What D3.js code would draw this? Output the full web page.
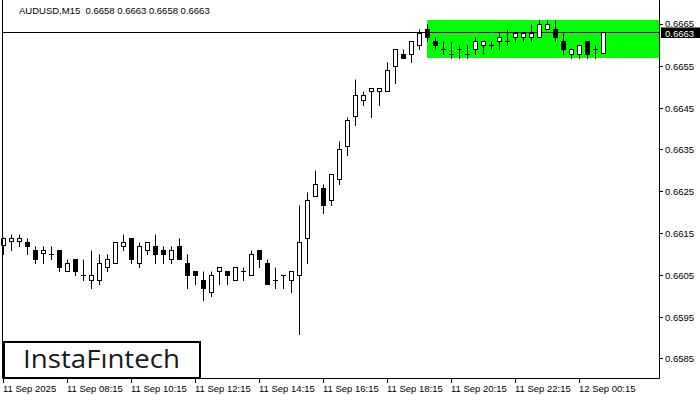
<!DOCTYPE html>
<html><head><meta charset="utf-8">
<script src="https://cdn.jsdelivr.net/npm/d3@7"></script>
<style>body{margin:0;background:#fff} svg{display:block}</style>
</head><body><svg id="c" width="700" height="400"></svg>
<script>
const barOpen  = [0.66120,0.66130,0.66130,0.66129,0.66110,0.66101,0.66100,0.66110,0.66058,0.66088,
                  0.66050,0.66038,0.66038,0.66069,0.66079,0.66119,0.66139,0.66079,0.66110,0.66119,
                  0.66110,0.66088,0.66119,0.66079,0.66058,0.66038,0.66009,0.66058,0.66058,0.66038,
                  0.66058,0.66050,0.66110,0.66079,0.66038,0.66050,0.66038,0.66050,0.66138,0.66239,
                  0.66258,0.66230,0.66278,0.66359,0.66429,0.66469,0.66489,0.66489,0.66489,0.66549,
                  0.66578,0.66578,0.66599,0.66637,0.66609,0.66589,0.66578,0.66589,0.66578,0.66589,
                  0.66599,0.66599,0.66609,0.66609,0.66618,0.66618,0.66618,0.66618,0.66638,0.66638,
                  0.66609,0.66578,0.66578,0.66609,0.66589,0.66580];
const barHigh  = [0.66141,0.66148,0.66148,0.66139,0.66119,0.66119,0.66119,0.66110,0.66088,0.66088,
                  0.66088,0.66110,0.66100,0.66100,0.66129,0.66148,0.66139,0.66129,0.66129,0.66148,
                  0.66119,0.66119,0.66139,0.66100,0.66058,0.66058,0.66058,0.66069,0.66058,0.66069,
                  0.66069,0.66110,0.66110,0.66088,0.66069,0.66050,0.66058,0.66218,0.66249,0.66300,
                  0.66268,0.66290,0.66369,0.66428,0.66518,0.66489,0.66498,0.66498,0.66559,0.66589,
                  0.66589,0.66609,0.66637,0.66649,0.66618,0.66609,0.66609,0.66599,0.66599,0.66618,
                  0.66609,0.66609,0.66628,0.66638,0.66628,0.66628,0.66649,0.66660,0.66660,0.66660,
                  0.66628,0.66589,0.66599,0.66609,0.66599,0.66630];
const barLow   = [0.66100,0.66110,0.66118,0.66100,0.66079,0.66079,0.66088,0.66058,0.66058,0.66050,
                  0.66038,0.66018,0.66028,0.66058,0.66079,0.66110,0.66079,0.66069,0.66100,0.66079,
                  0.66079,0.66079,0.66088,0.66018,0.66028,0.65989,0.65998,0.66028,0.66028,0.66038,
                  0.66038,0.66050,0.66069,0.66028,0.66018,0.66018,0.66009,0.65908,0.66078,0.66239,
                  0.66198,0.66218,0.66268,0.66337,0.66409,0.66457,0.66428,0.66457,0.66489,0.66508,
                  0.66568,0.66559,0.66589,0.66609,0.66589,0.66578,0.66568,0.66568,0.66568,0.66578,
                  0.66578,0.66589,0.66589,0.66599,0.66609,0.66609,0.66609,0.66618,0.66638,0.66609,
                  0.66578,0.66568,0.66568,0.66568,0.66568,0.66580];
const barClose = [0.66139,0.66139,0.66139,0.66119,0.66088,0.66110,0.66100,0.66069,0.66079,0.66058,
                  0.66050,0.66050,0.66079,0.66088,0.66129,0.66129,0.66088,0.66119,0.66129,0.66100,
                  0.66100,0.66110,0.66088,0.66050,0.66050,0.66018,0.66050,0.66069,0.66050,0.66069,
                  0.66058,0.66100,0.66088,0.66028,0.66038,0.66050,0.66058,0.66129,0.66230,0.66268,
                  0.66218,0.66290,0.66350,0.66420,0.66479,0.66479,0.66498,0.66498,0.66540,0.66589,
                  0.66568,0.66609,0.66628,0.66618,0.66599,0.66589,0.66578,0.66589,0.66578,0.66609,
                  0.66609,0.66599,0.66618,0.66609,0.66628,0.66628,0.66628,0.66649,0.66649,0.66618,
                  0.66589,0.66589,0.66599,0.66578,0.66589,0.66630];
const xTickIndex  = [0,8,16,24,32,40,48,56,64,72];
const xTickLabels = ["11 Sep 2025","11 Sep 08:15","11 Sep 10:15","11 Sep 12:15","11 Sep 14:15",
                     "11 Sep 16:15","11 Sep 18:15","11 Sep 20:15","11 Sep 22:15","12 Sep 00:15"];
const yTickValues = [0.6585,0.6595,0.6605,0.6615,0.6625,0.6635,0.6645,0.6655,0.6665];
const titleText = "AUDUSD,M15  0.6658 0.6663 0.6658 0.6663";
const lastPrice = 0.6663;
const zoneTop = 0.66660, zoneBottom = 0.66569, zoneStart = 53;
const logoText = "InstaFıntech";

const svg = d3.select("#c");
const F = "'Liberation Sans', Arial, sans-serif";
const plotRight = 659, plotBottom = 378, plotLeft = 2;
const x = d3.scaleLinear().domain([0, 75]).range([3, 603]);
const y = d3.scaleLinear().domain([0.6585, 0.6665]).range([358.3, 24]);
const py = v => Math.round(y(v)) + 0.5;
const px = i => Math.round(x(i)) + 0.5;

svg.append("rect").attr("width",700).attr("height",400).attr("fill","#fff");

// zone
svg.append("rect")
  .attr("x", Math.round(x(zoneStart))).attr("y", Math.round(y(zoneTop)))
  .attr("width", plotRight - Math.round(x(zoneStart)))
  .attr("height", Math.round(y(zoneBottom)) - Math.round(y(zoneTop)))
  .attr("fill", "#00ff00");

// price line
svg.append("line").attr("x1", plotLeft).attr("x2", plotRight)
  .attr("y1", py(lastPrice)).attr("y2", py(lastPrice))
  .attr("stroke", "#000").attr("stroke-width", 1);

// candles
const idx = d3.range(barOpen.length);
const g = svg.append("g");
g.selectAll("line.w").data(idx).join("line").attr("class","w")
  .attr("x1", px).attr("x2", px)
  .attr("y1", i => py(barHigh[i])).attr("y2", i => py(barLow[i]) + 0.5)
  .attr("stroke", "#000").attr("stroke-width", 1);
g.selectAll("rect.b").data(idx.filter(i => Math.abs(barOpen[i]-barClose[i]) > 1e-6)).join("rect").attr("class","b")
  .attr("x", i => px(i) - 2).attr("width", 4)
  .attr("y", i => py(Math.max(barOpen[i], barClose[i])))
  .attr("height", i => Math.max(1, py(Math.min(barOpen[i], barClose[i])) - py(Math.max(barOpen[i], barClose[i]))))
  .attr("fill", i => barClose[i] > barOpen[i] ? "#fff" : "#000")
  .attr("stroke", "#000").attr("stroke-width", 1);
g.selectAll("line.d").data(idx.filter(i => Math.abs(barOpen[i]-barClose[i]) <= 1e-6)).join("line").attr("class","d")
  .attr("x1", i => px(i) - 2.5).attr("x2", i => px(i) + 2.5)
  .attr("y1", i => py(barClose[i])).attr("y2", i => py(barClose[i]))
  .attr("stroke", "#000").attr("stroke-width", 1);

// frame
svg.append("path")
  .attr("d", `M${plotLeft+0.5},0 V${plotBottom+0.5} H${plotRight+0.5} V0`)
  .attr("fill","none").attr("stroke","#000").attr("stroke-width",1);

// y axis
const ya = svg.append("g");
yTickValues.forEach(v => {
  const yy = py(v);
  ya.append("line").attr("x1", plotRight+1).attr("x2", plotRight+4).attr("y1", yy).attr("y2", yy).attr("stroke","#000");
  ya.append("text").attr("x", 665).attr("y", v === 0.6665 ? yy + 2 : yy + 3.5).attr("font-family", F).attr("font-size", 9.5)
    .attr("fill","#000").text(d3.format(".4f")(v));
});
// current price label
svg.append("rect").attr("x", 661).attr("y", py(lastPrice) - 5).attr("width", 39).attr("height", 10.5).attr("fill","#000");
svg.append("text").attr("x", 665).attr("y", py(lastPrice) + 4).attr("font-family", F).attr("font-size", 9.5)
  .attr("fill","#fff").text(d3.format(".4f")(lastPrice));

// x axis
const xa = svg.append("g");
xTickIndex.forEach((i, k) => {
  const xx = px(i);
  xa.append("line").attr("x1", xx).attr("x2", xx).attr("y1", plotBottom+1).attr("y2", plotBottom+5).attr("stroke","#000");
  xa.append("text").attr("x", xx - 0.5).attr("y", 391.5).attr("font-family", F).attr("font-size", 9.5)
    .attr("fill","#000").text(xTickLabels[k]);
});

// title
svg.append("text").attr("x", 19).attr("y", 14).attr("font-family", F).attr("font-size", 9.5)
  .attr("fill","#000").style("white-space","pre").attr("xml:space","preserve").text(titleText);

// logo
svg.append("rect").attr("x", 4).attr("y", 342).attr("width", 196).attr("height", 36)
  .attr("fill","#fff").attr("stroke","#000").attr("stroke-width",2);
svg.append("text").attr("x", 23).attr("y", 367.5)
  .attr("font-family","'Open Sans', 'Noto Sans', sans-serif").attr("font-weight", 500).attr("font-size", 25)
  .attr("textLength", 157).attr("lengthAdjust", "spacingAndGlyphs")
  .attr("fill","#1a1a1a").text(logoText);
</script></body></html>
